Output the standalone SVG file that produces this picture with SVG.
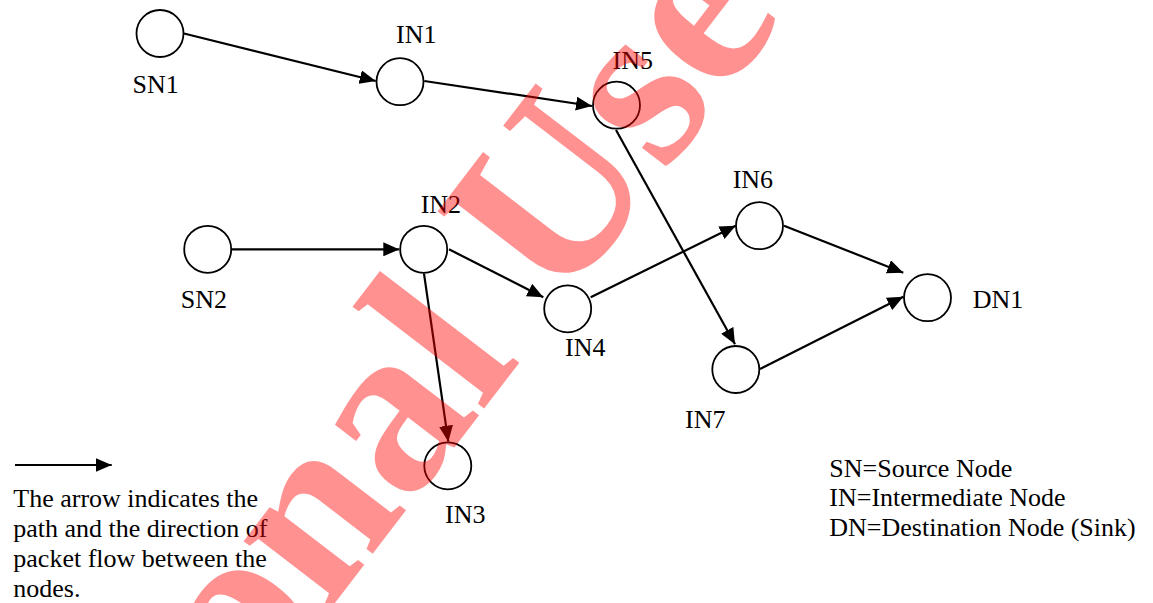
<svg xmlns="http://www.w3.org/2000/svg" width="1153" height="603" viewBox="0 0 1153 603">
  <style>
    text { font-family: "Liberation Serif", Tinos, "Times New Roman", Times, serif; font-size: 26px; fill: #000; }
    .node circle { fill: #fff; stroke: #000; stroke-width: 1.8; }
    .edge { stroke: #000; stroke-width: 2.2; fill: none; marker-end: url(#arrow); }
    .mark { font-size: 240px; font-weight: bold; fill: #ff0000; fill-opacity: 0.43; }
  </style>
  <defs>
    <marker id="arrow" viewBox="0 0 16 14" refX="16" refY="7" markerWidth="16" markerHeight="14" markerUnits="userSpaceOnUse" orient="auto">
      <path d="M0,0 L16,7 L0,14 Z" fill="#000"/>
    </marker>
  </defs>
  <rect width="1153" height="603" fill="#fff"/>

  <!-- connectors -->
  <g id="connectors">
    <line class="edge" x1="184" y1="33.5" x2="375.7" y2="81"/>
    <line class="edge" x1="424.3" y1="81" x2="592" y2="106"/>
    <line class="edge" x1="616" y1="130" x2="735" y2="344.3"/>
    <line class="edge" x1="232" y1="249.3" x2="399.3" y2="249.3"/>
    <line class="edge" x1="449" y1="249.3" x2="543.3" y2="297.3"/>
    <line class="edge" x1="424" y1="273.7" x2="448.3" y2="441.7"/>
    <line class="edge" x1="590.7" y1="297.3" x2="735.7" y2="225.7"/>
    <line class="edge" x1="784" y1="225.7" x2="903.3" y2="272.7"/>
    <line class="edge" x1="760" y1="369" x2="903.3" y2="296.7"/>
  </g>

  <!-- nodes -->
  <g id="SN1" class="node"><circle cx="160" cy="33.5" r="23.5"/><text x="132.5" y="93">SN1</text></g>
  <g id="IN1" class="node"><circle cx="400" cy="81.7" r="23.5"/><text x="396" y="43.3">IN1</text></g>
  <g id="IN5" class="node"><circle cx="616.5" cy="105.2" r="23.5"/><text x="612.5" y="69">IN5</text></g>
  <g id="SN2" class="node"><circle cx="207.7" cy="249.3" r="23.5"/><text x="180.7" y="307.7">SN2</text></g>
  <g id="IN2" class="node"><circle cx="423.7" cy="249.3" r="23.5"/><text x="420.7" y="213.3">IN2</text></g>
  <g id="IN4" class="node"><circle cx="567.7" cy="308.8" r="23.5"/><text x="565" y="356">IN4</text></g>
  <g id="IN6" class="node"><circle cx="759.5" cy="225.7" r="23.5"/><text x="732.7" y="188.3">IN6</text></g>
  <g id="DN1" class="node"><circle cx="927.5" cy="297.7" r="23.5"/><text x="972.7" y="307.7">DN1</text></g>
  <g id="IN7" class="node"><circle cx="735.8" cy="369.5" r="23.5"/><text x="685" y="427.7">IN7</text></g>
  <g id="IN3" class="node"><circle cx="447.8" cy="465.8" r="23.5"/><text x="445" y="523.3">IN3</text></g>

  <!-- legend: sample arrow and its explanation -->
  <g id="legend-arrow">
    <line class="edge" x1="15" y1="465" x2="111.7" y2="465"/>
    <text x="13.3" y="507">The arrow indicates the</text>
    <text x="13.3" y="537">path and the direction of</text>
    <text x="13.3" y="567">packet flow between the</text>
    <text x="13.3" y="596.7">nodes.</text>
  </g>

  <!-- legend: abbreviations -->
  <g id="legend-key">
    <text x="829.3" y="476.7">SN=Source Node</text>
    <text x="829.3" y="506.2">IN=Intermediate Node</text>
    <text x="829.3" y="535.7">DN=Destination Node (Sink)</text>
  </g>

  <!-- diagonal watermark drawn over everything -->
  <text class="mark" transform="translate(254,708.5) rotate(-52.5)">onal Use</text>
</svg>
